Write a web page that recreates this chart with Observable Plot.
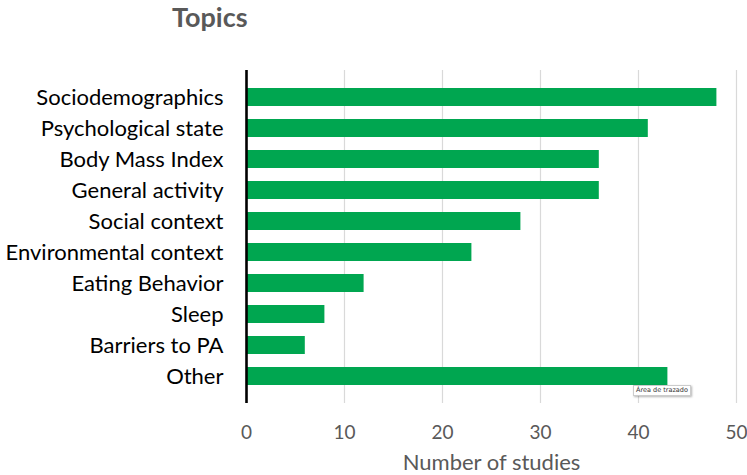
<!DOCTYPE html>
<html>
<head>
<meta charset="utf-8">
<script src="https://cdn.jsdelivr.net/npm/d3@7"></script>
<script src="https://cdn.jsdelivr.net/npm/@observablehq/plot@0.6"></script>
<style>
  html, body { margin: 0; padding: 0; background: #fff; }
  #wrap { position: relative; width: 747px; height: 475px; }
  #title { position: absolute; left: 172px; top: 0px; font-family: Lato, sans-serif; font-weight: 700; font-size: 27px; line-height: 34px; color: #595959; }
  #tip { position: absolute; left: 633px; top: 385px; font-family: "DejaVu Sans", sans-serif; font-size: 6.5px; color: #333; background: #fff; border: 1px solid #ccc; box-shadow: 1px 1px 2px rgba(0,0,0,0.3); padding: 0 2px; line-height: 9px; }
</style>
</head>
<body>
<div id="wrap">
  <div id="chart"></div>
  <div id="title">Topics</div>
  <div id="tip">Área de trazado</div>
</div>
<script>
const topics = ["Sociodemographics", "Psychological state", "Body Mass Index", "General activity", "Social context", "Environmental context", "Eating Behavior", "Sleep", "Barriers to PA", "Other"];
const studies = [48, 41, 36, 36, 28, 23, 12, 8, 6, 43];
const xTicks = [0, 10, 20, 30, 40, 50];

const data = topics.map((t, i) => ({topic: t, value: studies[i]}));

const chart = Plot.plot({
  width: 747,
  height: 475,
  marginLeft: 246,
  marginRight: 11,
  marginTop: 70,
  marginBottom: 72,
  style: {background: "#fff"},
  x: {domain: [0, 50], ticks: xTicks},
  y: {domain: topics, padding: 0.43},
  marks: [
    Plot.gridX(xTicks.slice(1), {stroke: "#d9d9d9", strokeOpacity: 1, strokeWidth: 1.2}),
    Plot.barX(data, {y: "topic", x: "value", fill: "#00a650"}),
    Plot.ruleX([0], {stroke: "#000", strokeWidth: 2.6}),
    Plot.axisX(xTicks, {tickSize: 0, tickPadding: 22, fontSize: 19, fontFamily: "Lato, sans-serif", fill: "#595959", label: null}),
    Plot.axisX({tickSize: 0, ticks: [], fontSize: 22, fontFamily: "Lato, sans-serif", fill: "#595959", label: "Number of studies", labelAnchor: "center", labelOffset: 66, labelArrow: "none"}),
    Plot.axisY({tickSize: 0, tickPadding: 23, fontSize: 22, fontFamily: "Lato, sans-serif", fill: "#000", label: null})
  ]
});
document.getElementById("chart").appendChild(chart);
</script>
</body>
</html>
